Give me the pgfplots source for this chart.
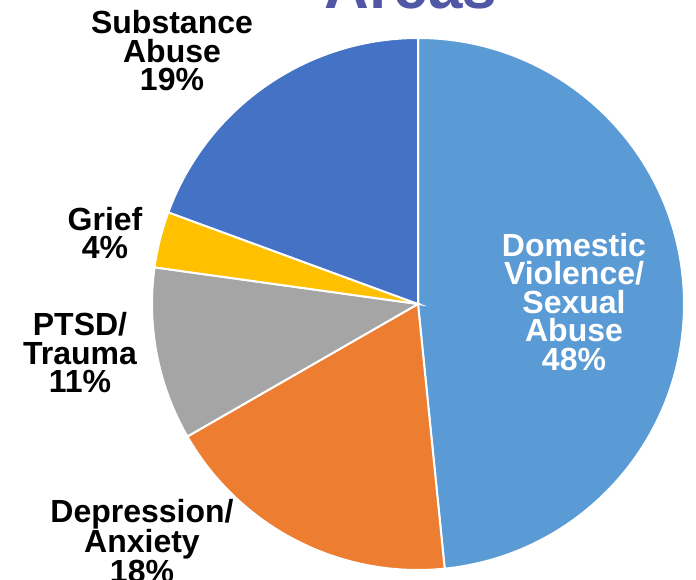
\documentclass[border=0pt]{standalone}
\usepackage{fontspec}
\setmainfont{Liberation Sans}
\usepackage{pgfplots}
\pgfplotsset{compat=1.18}

\definecolor{dvcol}{HTML}{5B9BD5}
\definecolor{depcol}{HTML}{ED7D31}
\definecolor{ptsdcol}{HTML}{A5A5A5}
\definecolor{griefcol}{HTML}{FFC000}
\definecolor{subcol}{HTML}{4472C4}
\definecolor{titlecol}{HTML}{5058A6}

% shares in percent, clockwise from 12 o'clock
\def\vDV{48.4}\def\vDep{18.3}\def\vPTSD{10.5}\def\vGrief{3.4}\def\vSub{19.4}
\pgfmathsetmacro\aA{90-3.6*\vDV}
\pgfmathsetmacro\aB{\aA-3.6*\vDep}
\pgfmathsetmacro\aC{\aB-3.6*\vPTSD}
\pgfmathsetmacro\aD{\aC-3.6*\vGrief}
\pgfmathsetmacro\aE{\aD-3.6*\vSub}

\begin{document}
\begin{tikzpicture}
\begin{axis}[
    scale only axis,
    width=696pt, height=579pt,
    xmin=0, xmax=696, ymin=0, ymax=579,
    hide axis,
    clip=false,
]
\def\R{266pt}
\filldraw[fill=dvcol, draw=white, line width=2pt] (axis cs:418,275) -- ++(90:\R) arc[start angle=90, end angle=\aA, radius=\R] -- cycle;
\filldraw[fill=depcol, draw=white, line width=2pt] (axis cs:418,275) -- ++(\aA:\R) arc[start angle=\aA, end angle=\aB, radius=\R] -- cycle;
\filldraw[fill=ptsdcol, draw=white, line width=2pt] (axis cs:418,275) -- ++(\aB:\R) arc[start angle=\aB, end angle=\aC, radius=\R] -- cycle;
\filldraw[fill=griefcol, draw=white, line width=2pt] (axis cs:418,275) -- ++(\aC:\R) arc[start angle=\aC, end angle=\aD, radius=\R] -- cycle;
\filldraw[fill=subcol, draw=white, line width=2pt] (axis cs:418,275) -- ++(\aD:\R) arc[start angle=\aD, end angle=\aE, radius=\R] -- cycle;

\tikzset{lbl/.style={align=center, inner sep=0pt, font=\fontsize{32}{28.5}\selectfont\bfseries}}
\node[lbl, text=white] at (axis cs:574,277) {Domestic\\Violence/\\Sexual\\Abuse\\48\%};
\node[lbl] at (axis cs:142,38) {Depression/\\Anxiety\\18\%};
\node[lbl] at (axis cs:80,226) {PTSD/\\Trauma\\11\%};
\node[lbl] at (axis cs:105,346) {Grief\\4\%};
\node[lbl] at (axis cs:172,528) {Substance\\Abuse\\19\%};

\node[anchor=base, inner sep=0pt, text=titlecol, font=\fontsize{62}{62}\selectfont\bfseries] at (axis cs:411,570) {Areas};
\end{axis}
\pgfresetboundingbox
\path[use as bounding box] (0,0) rectangle (696pt,579pt);
\end{tikzpicture}
\end{document}
